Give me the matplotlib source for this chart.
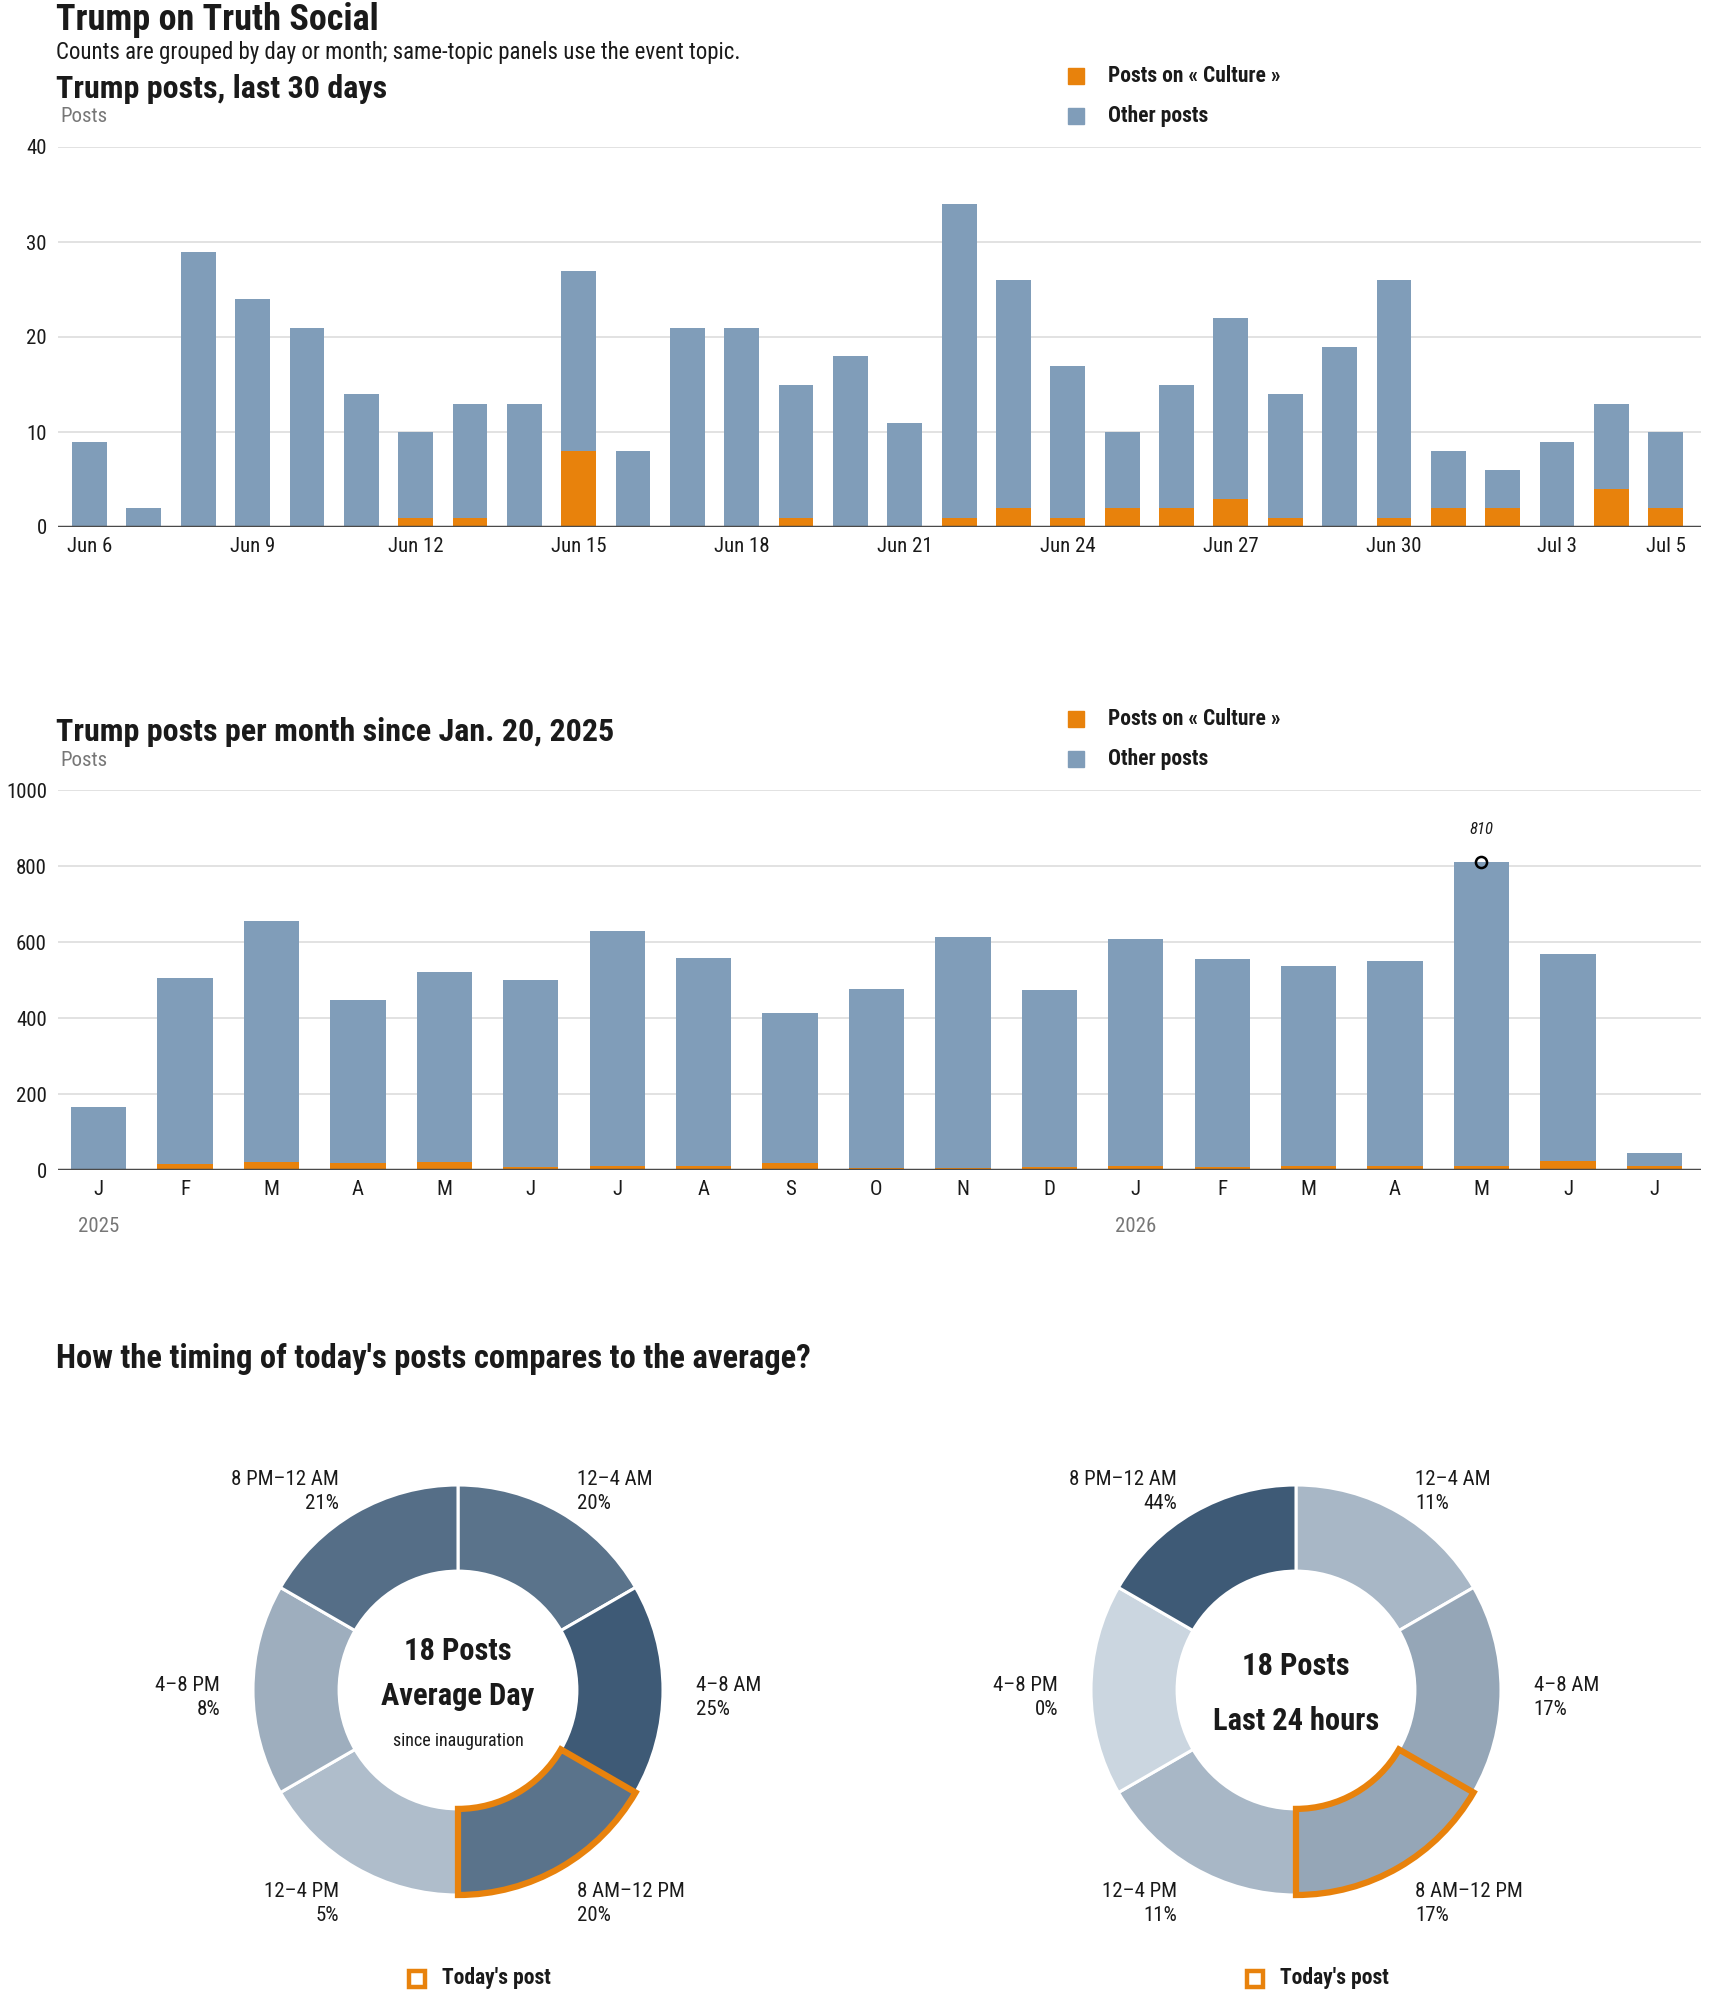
import numpy as np
import pandas as pd
import matplotlib
matplotlib.use("Agg")
import matplotlib.pyplot as plt
from matplotlib import font_manager
from matplotlib.patches import Rectangle

W, H = 1710, 1993
DPI = 100

names = {f.name for f in font_manager.fontManager.ttflist}
FONT = next((f for f in ["Roboto Condensed", "Liberation Sans Narrow", "Liberation Sans", "DejaVu Sans"] if f in names), "DejaVu Sans")
plt.rcParams["font.family"] = [FONT, "DejaVu Sans"]

ORANGE = "#e8820c"
BLUE = "#809db9"
GRID = "#dddddd"
BASE = "#4a4a4a"
TXT = "#1a1a1a"
HEAVY = "heavy"

# ---- data: last 30 days ----
days = pd.date_range("2026-06-06", "2026-07-05")
day_total = [9, 2, 29, 24, 21, 14, 10, 13, 13, 27, 8, 21, 21, 15, 18,
             11, 34, 26, 17, 10, 15, 22, 14, 19, 26, 8, 6, 9, 13, 10]
day_culture = [0, 0, 0, 0, 0, 0, 1, 1, 0, 8, 0, 0, 0, 1, 0,
               0, 1, 2, 1, 2, 2, 3, 1, 0, 1, 2, 2, 0, 4, 2]
day_ticks = [0, 3, 6, 9, 12, 15, 18, 21, 24, 27, 29]

# ---- data: monthly since inauguration ----
month_labels = ["J", "F", "M", "A", "M", "J", "J", "A", "S", "O", "N", "D",
                "J", "F", "M", "A", "M", "J", "J"]
month_total = [165, 504, 654, 447, 520, 499, 628, 559, 412, 477, 612, 473,
               607, 556, 538, 549, 810, 568, 44]
month_culture = [2, 17, 21, 19, 21, 8, 10, 10, 19, 5, 4, 7,
                 11, 7, 11, 11, 11, 24, 11]
year_labels = {0: "2025", 12: "2026"}
peak_idx = 16

# ---- data: time of day ----
slots = ["12–4 AM", "4–8 AM", "8 AM–12 PM", "12–4 PM", "4–8 PM", "8 PM–12 AM"]
avg_pct = [20, 25, 20, 5, 8, 21]
last_pct = [11, 17, 17, 11, 0, 44]
current_slot = 2


def px_axes(fig, left, top, right, bottom):
    return fig.add_axes([left / W, 1 - bottom / H, (right - left) / W, (bottom - top) / H])


def ftext(fig, x, y, s, **kw):
    fig.text(x / W, 1 - y / H, s, **kw)


def shade(p, pmax):
    # colour relative to the busiest slot of the ring
    light = np.array([0xcb, 0xd6, 0xe0]) / 255
    dark = np.array([0x3e, 0x5a, 0x76]) / 255
    t = p / pmax if pmax else 0
    return tuple(light + (dark - light) * t)


def bar_panel(ax, total, culture, ylim, yticks):
    x = np.arange(len(total))
    other = np.array(total) - np.array(culture)
    ax.bar(x, culture, width=0.64, color=ORANGE, zorder=3)
    ax.bar(x, other, bottom=culture, width=0.64, color=BLUE, zorder=3)
    ax.set_ylim(*ylim)
    ax.set_yticks(yticks)
    ax.grid(axis="y", color=GRID, lw=1.2, zorder=0)
    for s in ax.spines.values():
        s.set_visible(False)
    ax.axhline(0, color=BASE, lw=2.5, zorder=4)
    ax.tick_params(axis="both", length=0, labelsize=15, colors=TXT, pad=7)
    ax.tick_params(axis="y", pad=8)


def legend(fig, y1, y2):
    for y, c, s in [(y1, ORANGE, "Posts on « Culture »"), (y2, BLUE, "Other posts")]:
        fig.patches.append(Rectangle((1068 / W, 1 - (y + 8) / H), 16 / W, 16 / H,
                                     transform=fig.transFigure, color=c))
        ftext(fig, 1108, y, s, fontsize=15.5, fontweight=HEAVY, color=TXT, va="center")


fig = plt.figure(figsize=(W / DPI, H / DPI), dpi=DPI)

ftext(fig, 56, 20, "Trump on Truth Social", fontsize=26, fontweight=HEAVY, color=TXT, va="center")
ftext(fig, 56, 52, "Counts are grouped by day or month; same-topic panels use the event topic.",
      fontsize=16.5, color=TXT, va="center")

# ---- panel 1 ----
ftext(fig, 56, 89, "Trump posts, last 30 days", fontsize=23, fontweight=HEAVY, color=TXT, va="center")
ftext(fig, 60, 117, "Posts", fontsize=15, color="#777777", va="center")
legend(fig, 76, 116)
ax1 = px_axes(fig, 58, 147, 1701, 527)
bar_panel(ax1, day_total, day_culture, (0, 40), [0, 10, 20, 30, 40])
ax1.set_xlim(-0.58, 29.65)
ax1.set_xticks(day_ticks)
ax1.set_xticklabels([f"{days[i]:%b} {days[i].day}" for i in day_ticks])

# ---- panel 2 ----
ftext(fig, 56, 732, "Trump posts per month since Jan. 20, 2025", fontsize=23, fontweight=HEAVY,
      color=TXT, va="center")
ftext(fig, 60, 760, "Posts", fontsize=15, color="#777777", va="center")
legend(fig, 719, 759)
ax2 = px_axes(fig, 58, 790, 1701, 1170)
bar_panel(ax2, month_total, month_culture, (0, 1000), [0, 200, 400, 600, 800, 1000])
ax2.set_xlim(-0.47, 18.54)
ax2.set_xticks(range(len(month_labels)))
ax2.set_xticklabels(month_labels)
for i, yr in year_labels.items():
    ax2.text(i, -150, yr, ha="center", va="center", fontsize=15, color="#777777", clip_on=False)
ax2.plot(peak_idx, month_total[peak_idx], "o", ms=8, mfc="none", mec="black", mew=1.8, zorder=5)
ax2.text(peak_idx, month_total[peak_idx] + 87, str(month_total[peak_idx]), ha="center", va="center",
         fontsize=12, style="italic", color=TXT)

# ---- panel 3 ----
ftext(fig, 56, 1359, "How the timing of today's posts compares to the average?", fontsize=23.5,
      fontweight=HEAVY, color=TXT, va="center")

R = 205
SPAN = 1.65


def donut(cx, cy, pcts, lines):
    ax = px_axes(fig, cx - R * SPAN, cy - R * SPAN, cx + R * SPAN, cy + R * SPAN)
    pmax = max(pcts)
    wedges, _ = ax.pie([1] * len(pcts), colors=[shade(p, pmax) for p in pcts], startangle=90,
                       counterclock=False, radius=1,
                       wedgeprops=dict(width=0.42, edgecolor="white", linewidth=2.2))
    hw = wedges[current_slot]
    hw.set_edgecolor(ORANGE)
    hw.set_linewidth(4.5)
    hw.set_zorder(5)
    ax.set_xlim(-SPAN, SPAN)
    ax.set_ylim(-SPAN, SPAN)
    ax.set_aspect("equal")
    ax.axis("off")
    for k, (name, p) in enumerate(zip(slots, pcts)):
        th = np.deg2rad(30 + 60 * k)
        x, y = 1.16 * np.sin(th), 1.16 * np.cos(th) - 0.037
        ax.text(x, y, f"{name}\n{p}%", ha="left" if x > 0 else "right", va="center",
                fontsize=15, color=TXT, linespacing=1.38, clip_on=False)
    for dy, s, kw in lines:
        ax.text(0, dy, s, ha="center", va="center", color=TXT, **kw)
    # today's post legend
    fig.patches.append(Rectangle(((cx - 49) / W, 1 - 1987 / H), 16 / W, 16 / H,
                                 transform=fig.transFigure, fill=False, ec=ORANGE, lw=3.2))
    ftext(fig, cx - 16, 1978, "Today's post", fontsize=15.5, fontweight=HEAVY, color=TXT, va="center")


donut(458, 1690, avg_pct, [
    (0.19, "18 Posts", dict(fontsize=22, fontweight=HEAVY)),
    (-0.03, "Average Day", dict(fontsize=22, fontweight=HEAVY)),
    (-0.25, "since inauguration", dict(fontsize=13)),
])
donut(1296, 1690, last_pct, [
    (0.115, "18 Posts", dict(fontsize=22, fontweight=HEAVY)),
    (-0.15, "Last 24 hours", dict(fontsize=22, fontweight=HEAVY)),
])

fig.savefig("out.png", dpi=DPI)
